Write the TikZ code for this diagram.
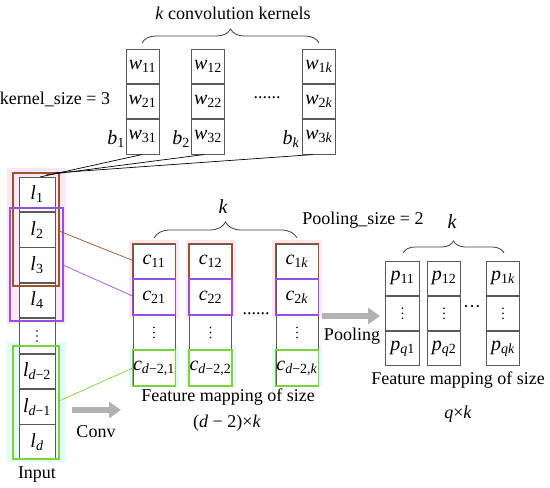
\documentclass[tikz,border=0pt]{standalone}
\usepackage{fontspec}
\setmainfont{Liberation Serif}
\usetikzlibrary{decorations.pathreplacing,arrows.meta,calc}
\definecolor{cbrown}{RGB}{160,82,45}
\definecolor{cpurple}{RGB}{150,80,225}
\definecolor{cgreen}{RGB}{125,210,60}
\definecolor{cpink}{RGB}{252,232,245}
\definecolor{ccyan}{RGB}{228,250,248}
\definecolor{cgrid}{RGB}{90,90,90}
\newcommand\vs[2]{\textit{#1}\textsubscript{#2}}
\begin{document}
\begin{tikzpicture}[x=1pt,y=-1pt,
  txt/.style={font=\fontsize{18}{20}\selectfont, inner sep=0pt},
  var/.style={font=\fontsize{20}{22}\selectfont},
  icell/.style={draw=cgrid, fill=white, line width=0.8pt, minimum width=36pt, minimum height=34.6pt, inner sep=0pt, var},
  kcell/.style={draw=cgrid, fill=white, line width=0.8pt, minimum width=33pt, minimum height=34.5pt, inner sep=0pt, var},
  fcell/.style={draw=cgrid, fill=white, line width=0.8pt, minimum width=42pt, minimum height=34.75pt, inner sep=0pt, var},
  pcell/.style={draw=cgrid, fill=white, line width=0.8pt, minimum width=33.5pt, minimum height=34.3pt, inner sep=0pt, var},
  hbox/.style={line width=1.6pt},
  bracestyle/.style={draw=black!75, line width=0.8pt, decorate, decoration={brace, amplitude=#1}},
  conn/.style={line width=0.7pt},
  bigarrow/.style={draw=black!30, line width=6pt, -{Triangle[length=12pt,width=16pt]}},
  vdot/.style={fill=black, radius=0.9pt}
]
\useasboundingbox (0,0) rectangle (550,488);

% glows
\fill[cpink] (7,168) rectangle (66,324);
\fill[ccyan] (7,342) rectangle (66,462);
\foreach \cx in {154,210.5,297}{
  \fill[cpink] (\cx-25,240) rectangle (\cx+25,318);
  \fill[ccyan] (\cx-25,345) rectangle (\cx+25,387);
}

% input column
\node[icell] (l1) at (37,194.3) {\vs{l}{1}};
\node[icell, anchor=north] (l2) at (l1.south) {\vs{l}{2}};
\node[icell, anchor=north] (l3) at (l2.south) {\vs{l}{3}};
\node[icell, anchor=north] (l4) at (l3.south) {\vs{l}{4}};
\node[icell, anchor=north] (l5) at (l4.south) {};
\node[icell, anchor=north] (l6) at (l5.south) {\vs{l}{\textit{d}−2}};
\node[icell, anchor=north] (l7) at (l6.south) {\vs{l}{\textit{d}−1}};
\node[icell, anchor=north] (l8) at (l7.south) {\vs{l}{\textit{d}}};
\foreach \d in {-5,0,5} \fill[vdot] ($(l5.center)+(0,\d)$) circle;

% colored boxes on input
\draw[hbox, cbrown] (13,173) rectangle (59,286);
\draw[hbox, cpurple] (10,208) rectangle (63,321);
\draw[hbox, cgreen] (13,346) rectangle (59,459);

% kernels
\node[kcell] (k11) at (142.5,66.3) {\vs{w}{11}};
\node[kcell, anchor=north] (k21) at (k11.south) {\vs{w}{21}};
\node[kcell, anchor=north] (k31) at (k21.south) {\vs{w}{31}};
\node[kcell] (k12) at (208,66.3) {\vs{w}{12}};
\node[kcell, anchor=north] (k22) at (k12.south) {\vs{w}{22}};
\node[kcell, anchor=north] (k32) at (k22.south) {\vs{w}{32}};
\node[kcell] (k1k) at (319,66.3) {\vs{w}{1\textit{k}}};
\node[kcell, anchor=north] (k2k) at (k1k.south) {\vs{w}{2\textit{k}}};
\node[kcell, anchor=north] (k3k) at (k2k.south) {\vs{w}{3\textit{k}}};

\node[txt] (kdots) at (267,98) {......};
\node[txt] (ksize) at (55,99) {kernel\_size = 3};
\node[txt, font=\fontsize{20}{22}\selectfont] (b1) at (116,139) {\vs{b}{1}};
\node[txt, font=\fontsize{20}{22}\selectfont] (b2) at (181,139) {\vs{b}{2}};
\node[txt, font=\fontsize{20}{22}\selectfont] (bk) at (291,139) {\vs{b}{\textit{k}}};

\draw[bracestyle=14pt] (142,43) -- (319,43);
\node[txt] (ktitle) at (233,13) {\textit{k} convolution kernels};

% lines from kernels to input
\coordinate (lt) at (40,177);
\draw[conn] ($(k31.south)+(-0.5,0)$) -- (lt);
\draw[conn] ($(k32.south)+(-4,0)$) -- ($(lt)+(6,-2)$);
\draw[conn] ($(k3k.south)+(-6,0)$) -- ($(lt)+(14,-4)$);

% feature map columns
\foreach \n/\cx/\s in {1/154/1, 2/210.5/2, 3/297/\textit{k}}{
  \node[fcell] (c1\n) at (\cx,261.4) {\vs{c}{1\s}};
  \node[fcell, anchor=north] (c2\n) at (c1\n.south) {\vs{c}{2\s}};
  \node[fcell, anchor=north] (c3\n) at (c2\n.south) {};
  \node[fcell, anchor=north] (c4\n) at (c3\n.south) {\vs{c}{\textit{d}−2,\s}};
  \foreach \d in {-5,0,5} \fill[vdot] ($(c3\n.center)+(0,\d)$) circle;
  \draw[hbox, cbrown] (c1\n.south west) -- (c1\n.north west) -- (c1\n.north east) -- (c1\n.south east);
  \draw[hbox, cpurple] (c2\n.north west) rectangle (c2\n.south east);
  \draw[hbox, cgreen] (c4\n.north west) rectangle (c4\n.south east);
}
\node[txt] (fdots) at (256,314) {......};
\draw[bracestyle=16pt] (154,238) -- (297,238);
\node[txt, font=\fontsize{20}{22}\selectfont\itshape] (kf) at (223,207) {k};
\node[txt] (fm1) at (228,397) {Feature mapping of size};
\node[txt] (fm1b) at (227,423) {(\textit{d} − 2)×\textit{k}};

% connectors input -> feature
\coordinate (bo) at (59,231);
\coordinate (pu) at (63,265);
\coordinate (gr) at (59,401);
\draw[conn, cbrown] (bo) -- ($(c11.west)+(0,-1)$);
\draw[conn, cpurple] (pu) -- ($(c21.west)+(0,-1)$);
\draw[conn, cgreen] (gr) -- (c41.west);

% conv arrow
\coordinate (ca1) at (72,410);
\coordinate (ca2) at (121,410);
\draw[bigarrow] (ca1) -- (ca2);
\node[txt] (conv) at (96,432) {Conv};
\node[txt] (input) at (37,475) {Input};

% pooling
\coordinate (pa1) at (322,316);
\coordinate (pa2) at (380,316);
\draw[bigarrow] (pa1) -- (pa2);
\node[txt] (pool) at (352,336) {Pooling};
\node[txt] (psize) at (363,220) {Pooling\_size = 2};

\foreach \n/\cx/\s in {1/402.5/1, 2/444/2, 3/503/\textit{k}}{
  \node[pcell] (p1\n) at (\cx,278.2) {\vs{p}{1\s}};
  \node[pcell, anchor=north] (p2\n) at (p1\n.south) {};
  \node[pcell, anchor=north] (p3\n) at (p2\n.south) {\vs{p}{\textit{q}\s}};
  \foreach \d in {-5,0,5} \fill[vdot] ($(p2\n.center)+(0,\d)$) circle;
}
\node[txt] (pdots) at (472,309) {···};
\draw[bracestyle=12pt] (403,253) -- (504,253);
\node[txt, font=\fontsize{20}{22}\selectfont\itshape] (kp) at (452,222) {k};
\node[txt] (fm2) at (458,380) {Feature mapping of size};
\node[txt] (fm2b) at (458,414) {\textit{q}×\textit{k}};
\end{tikzpicture}
\end{document}
